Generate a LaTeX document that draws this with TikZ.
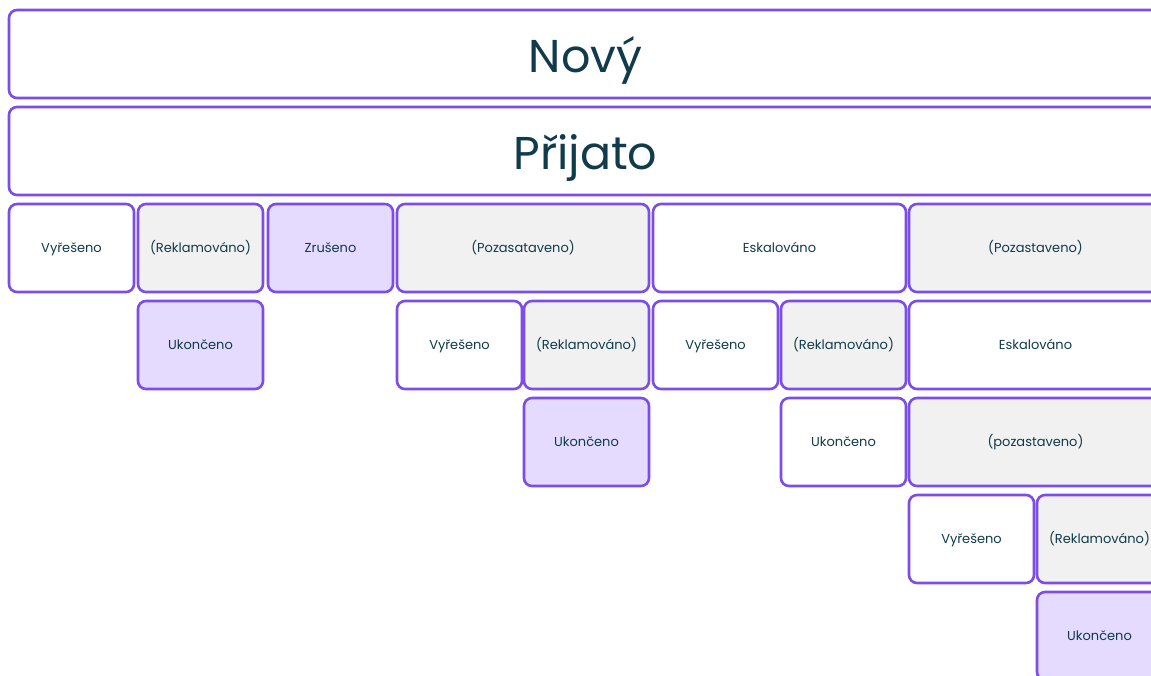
\documentclass[tikz,border=0pt]{standalone}
\usepackage{fontspec}
\setmainfont{Poppins}
\definecolor{bord}{HTML}{7C4DE8}
\definecolor{txt}{HTML}{0F3B4A}
\definecolor{lav}{HTML}{E5DBFF}
\definecolor{gry}{HTML}{F1F1F1}
\tikzset{
  cell/.style={draw=bord, line width=2.6pt, rounded corners=8pt},
  wcell/.style={cell, fill=white},
  gcell/.style={cell, fill=gry},
  lcell/.style={cell, fill=lav},
  lbl/.style={text=txt, font=\fontsize{13}{15}\selectfont, anchor=base, inner sep=0pt},
  biglbl/.style={text=txt, font=\fontsize{46}{50}\selectfont, anchor=base, inner sep=0pt},
}
\def\colstarts{{9,138,268,397,524,653,781,909,1037,1165}}
\newcommand{\bx}[6]{% style, name, col, row, span, text
  \pgfmathsetmacro{\xa}{\colstarts[#3]}
  \pgfmathsetmacro{\xb}{\colstarts[#3+#5-1]+125}
  \pgfmathsetmacro{\ya}{10+97*#4}
  \pgfmathsetmacro{\yb}{\ya+88}
  \draw[#1] (\xa,\ya) rectangle (\xb,\yb);
  \node[lbl] (#2) at ({(\xa+\xb)/2},{(\ya+\yb)/2+4.5}) {#6};
}
\begin{document}
\begin{tikzpicture}[x=1pt,y=-1pt]
\useasboundingbox (0,0) rectangle (1151,675);
\clip (0,0) rectangle (1151,675);
\fill[white] (0,0) rectangle (1151,675);
% big rows
\draw[wcell] (9,10) rectangle (1162,98);
\node[biglbl] (novy) at (585.5,72) {Nový};
\draw[wcell] (9,107) rectangle (1162,195);
\node[biglbl] (prijato) at (585.5,169) {Přijato};
% row 2
\bx{wcell}{a1}{0}{2}{1}{Vyřešeno}
\bx{gcell}{a2}{1}{2}{1}{(Reklamováno)}
\bx{lcell}{a3}{2}{2}{1}{Zrušeno}
\bx{gcell}{a4}{3}{2}{2}{(Pozasataveno)}
\bx{wcell}{a5}{5}{2}{2}{Eskalováno}
\bx{gcell}{a6}{7}{2}{2}{(Pozastaveno)}
% row 3
\bx{lcell}{b1}{1}{3}{1}{Ukončeno}
\bx{wcell}{b2}{3}{3}{1}{Vyřešeno}
\bx{gcell}{b3}{4}{3}{1}{(Reklamováno)}
\bx{wcell}{b4}{5}{3}{1}{Vyřešeno}
\bx{gcell}{b5}{6}{3}{1}{(Reklamováno)}
\bx{wcell}{b6}{7}{3}{2}{Eskalováno}
% row 4
\bx{lcell}{c1}{4}{4}{1}{Ukončeno}
\bx{wcell}{c2}{6}{4}{1}{Ukončeno}
\bx{gcell}{c3}{7}{4}{2}{(pozastaveno)}
% row 5
\bx{wcell}{d1}{7}{5}{1}{Vyřešeno}
\bx{gcell}{d2}{8}{5}{1}{(Reklamováno)}
% row 6
\bx{lcell}{e1}{8}{6}{1}{Ukončeno}
\end{tikzpicture}
\end{document}
